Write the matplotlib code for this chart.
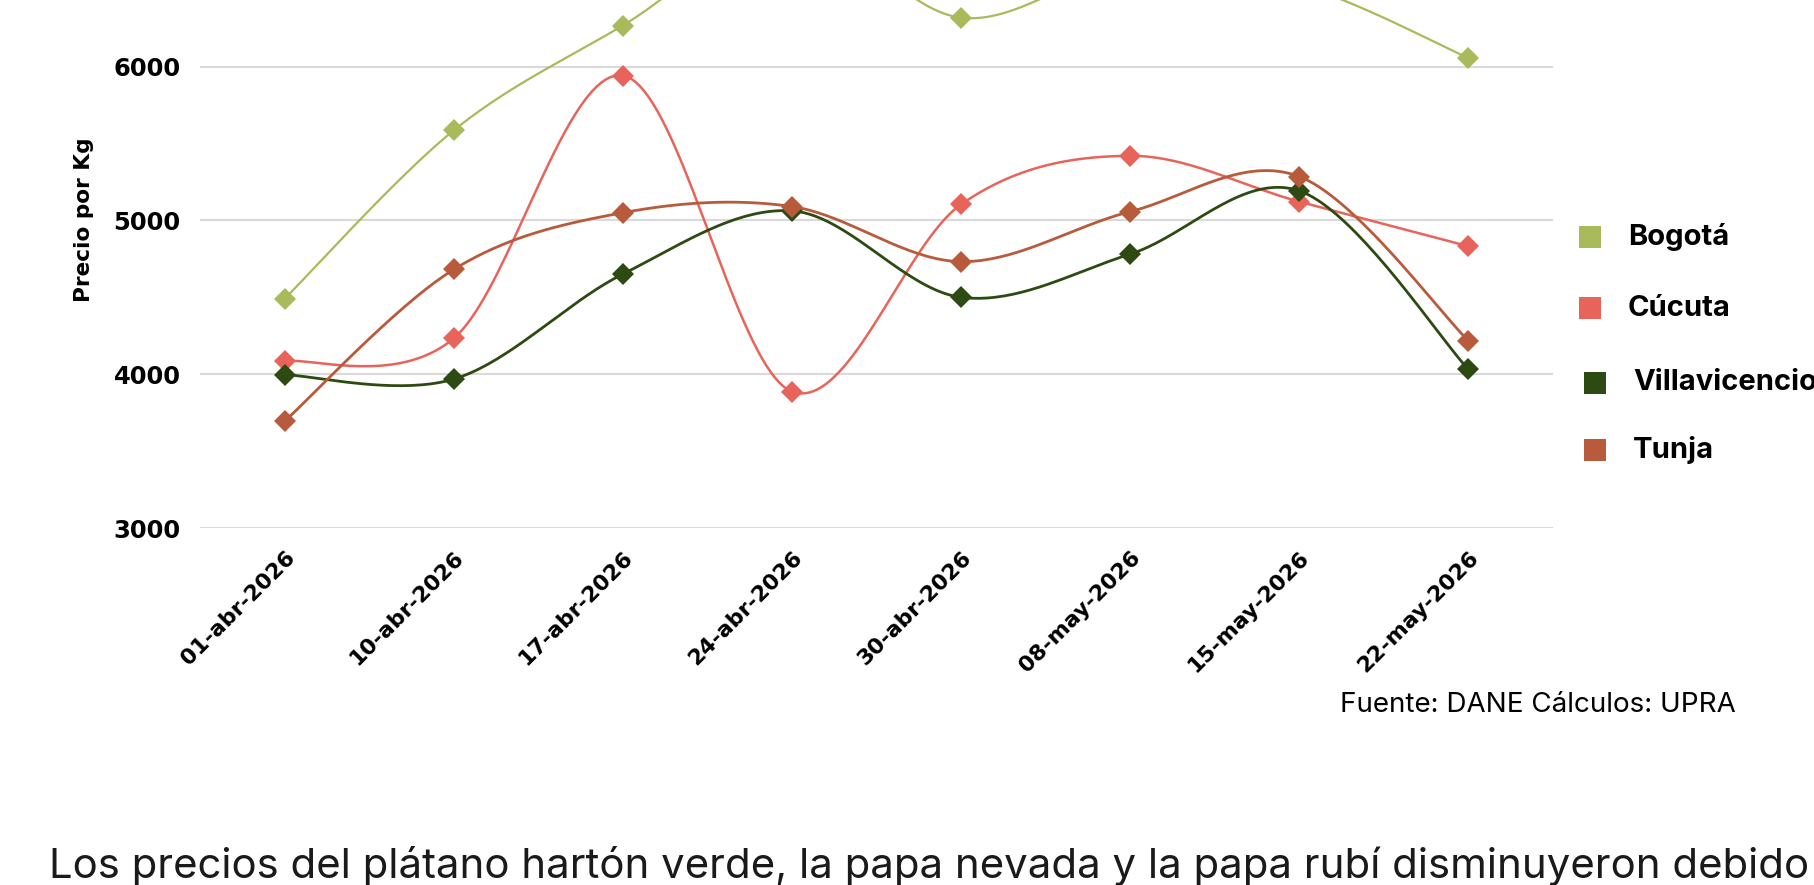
import numpy as np
import matplotlib
matplotlib.use("Agg")
import matplotlib.pyplot as plt
from matplotlib.patches import Rectangle
from matplotlib.transforms import ScaledTranslation

# ---------------- data ----------------
dates = ["01-abr-2026", "10-abr-2026", "17-abr-2026", "24-abr-2026",
         "30-abr-2026", "08-may-2026", "15-may-2026", "22-may-2026"]
bogota = [4490, 5585, 6267, 6900, 6318, 6650, 6530, 6056]
cucuta = [4085, 4233, 5942, 3887, 5104, 5420, 5122, 4832]
villavicencio = [3997, 3968, 4651, 5062, 4500, 4781, 5192, 4031]
tunja = [3694, 4681, 5050, 5090, 4732, 5057, 5285, 4217]
series_names = ["Bogotá", "Cúcuta", "Villavicencio", "Tunja"]
yticks = [3000, 4000, 5000, 6000]
ylim = (3000, 7000)
ylabel = "Precio por Kg"
source = "Fuente: DANE Cálculos: UPRA"
body = "Los precios del plátano hartón verde, la papa nevada y la papa rubí disminuyeron debido"

colors = ["#A9BA5A", "#E8645A", "#2C4A12", "#B85A3C"]
lws = [1.6, 1.8, 2.0, 2.0]

W, H = 1814, 885
TICKFONT = "DejaVu Sans"


def smooth(xs, ys, n=40):
    """Excel-like Catmull-Rom smoothing via cubic Bezier segments."""
    P = np.column_stack([xs, ys]).astype(float)
    Pe = np.vstack([P[0], P, P[-1]])
    out = []
    t = np.linspace(0, 1, n)[:, None]
    for i in range(len(P) - 1):
        p0, p1, p2, p3 = Pe[i], Pe[i + 1], Pe[i + 2], Pe[i + 3]
        b0 = p1
        b1 = p1 + (p2 - p0) / 6
        b2 = p2 - (p3 - p1) / 6
        b3 = p2
        seg = ((1 - t) ** 3) * b0 + 3 * ((1 - t) ** 2) * t * b1 + 3 * (1 - t) * t ** 2 * b2 + t ** 3 * b3
        out.append(seg if i == 0 else seg[1:])
    out = np.vstack(out)
    return out[:, 0], out[:, 1]


fig = plt.figure(figsize=(W / 100, H / 100), dpi=100)
fig.patch.set_facecolor("white")

ax_left, ax_right, ax_bottom = 200, 1553, 528
px_per_unit = 153.8 / 1000
ax_h = (ylim[1] - ylim[0]) * px_per_unit
ax = fig.add_axes([ax_left / W, (H - ax_bottom) / H, (ax_right - ax_left) / W, ax_h / H])

x = np.arange(len(dates))
all_series = [bogota, cucuta, villavicencio, tunja]
for ys, c, lw in zip(all_series, colors, lws):
    sx, sy = smooth(x, ys)
    ax.plot(sx, sy, color=c, lw=lw, zorder=3, clip_on=True)
    ax.plot(x, ys, linestyle="none", marker="D", markersize=11.5, color=c,
            markeredgewidth=0, zorder=4)

ax.set_xlim(-0.5, len(dates) - 0.5)
ax.set_ylim(*ylim)
ax.set_yticks(yticks)
ax.set_yticklabels([str(v) for v in yticks], fontsize=17.5, fontweight="bold",
                   fontfamily=TICKFONT)
ax.set_xticks(x)
ax.set_xticklabels(dates, rotation=45, ha="right", rotation_mode="anchor",
                   fontsize=15.8, fontweight="bold", fontfamily=TICKFONT)
offset = ScaledTranslation(12 / 100, 0, fig.dpi_scale_trans)
for lab in ax.get_xticklabels():
    lab.set_transform(lab.get_transform() + offset)
ax.tick_params(axis="both", length=0)
ax.tick_params(axis="y", pad=14)
ax.tick_params(axis="x", pad=14)
ax.grid(axis="y", color="#D9D9D9", lw=1.5, zorder=0)
for s in ax.spines.values():
    s.set_visible(False)
ax.set_facecolor("none")

fig.text(84 / W, 1 - 220 / H, ylabel, rotation=90, ha="center", va="center",
         fontsize=15.6, fontweight="bold", fontfamily=TICKFONT)

# legend (manual)
leg_rows = [237, 308, 383, 450]
leg_sq_x = [1579, 1579, 1584, 1584]
leg_txt_x = [1628, 1628, 1633, 1633]
sq = 22
for name, c, yy, sx0, tx in zip(series_names, colors, leg_rows, leg_sq_x, leg_txt_x):
    fig.add_artist(Rectangle((sx0 / W, 1 - (yy + sq / 2) / H), sq / W, sq / H,
                             transform=fig.transFigure, facecolor=c, edgecolor="none"))
    fig.text(tx / W, 1 - yy / H, name, ha="left", va="center", fontsize=21,
             fontweight="bold", fontfamily="Inter")

fig.text(1340 / W, 1 - 705 / H, source, ha="left", va="center", fontsize=20,
         fontfamily="Inter")
fig.text(49 / W, 1 - 866 / H, body, ha="left", va="center", fontsize=30.2,
         fontfamily="Inter", color="#1a1a1a")

fig.savefig("out.png", dpi=100, facecolor="white")
